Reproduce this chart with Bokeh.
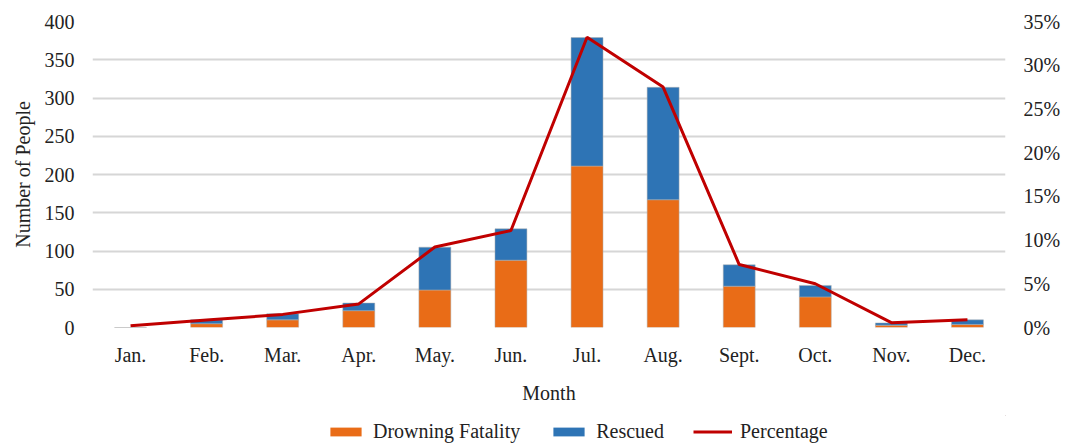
from bokeh.plotting import figure
from bokeh.layouts import column
from bokeh.models import (ColumnDataSource, FactorRange, Range1d, LinearAxis, Legend, LegendItem,
                          FixedTicker, PrintfTickFormatter)
from bokeh.embed import file_html
from bokeh.resources import INLINE

months = ["Jan.", "Feb.", "Mar.", "Apr.", "May.", "Jun.", "Jul.", "Aug.", "Sept.", "Oct.", "Nov.", "Dec."]
fatality = [0, 5, 10, 22, 49, 88, 211, 167, 54, 40, 3, 4]
rescued = [0, 5, 8, 10, 56, 41, 168, 147, 28, 15, 3, 6]
percentage = [0.2, 0.85, 1.5, 2.7, 9.2, 11.1, 33.2, 27.5, 7.2, 5.0, 0.55, 0.88]
series_names = ["Drowning Fatality", "Rescued", "Percentage"]

left_ticks = [0, 50, 100, 150, 200, 250, 300, 350, 400]
right_ticks = [0, 5, 10, 15, 20, 25, 30, 35]

FONT = "Liberation Serif"
ORANGE = "#E96C17"
BLUE = "#2E74B5"
RED = "#C00000"
TXT = "#222222"

src = ColumnDataSource(dict(month=months, fatality=fatality, rescued=rescued, pct=percentage))

p = figure(width=1077, height=415, x_range=FactorRange(*months), y_range=Range1d(0, 400),
           output_backend="svg", toolbar_location=None,
           min_border_left=92, min_border_right=72, min_border_top=21, min_border_bottom=88)
p.outline_line_color = None
p.background_fill_color = "white"

p.extra_y_ranges = {"pct": Range1d(0, 35)}

p.ygrid.ticker = FixedTicker(ticks=left_ticks)
p.ygrid.grid_line_color = "#d6d6d6"
p.ygrid.grid_line_width = 2
p.xgrid.grid_line_color = None

bars = p.vbar_stack(["fatality", "rescued"], x="month", width=0.42, source=src,
                    color=[ORANGE, BLUE], line_color="#b0b0b0", line_width=0.5)
line = p.line(x="month", y="pct", source=src, y_range_name="pct", color=RED, line_width=3)

ya = p.yaxis[0]
ya.ticker = FixedTicker(ticks=left_ticks)
ya.axis_label = "Number of People"
ya.axis_line_color = None
ya.major_tick_line_color = None
ya.minor_tick_line_color = None
ya.major_label_text_font = FONT
ya.major_label_text_font_size = "20px"
ya.major_label_text_color = TXT
ya.major_label_standoff = 12
ya.axis_label_text_font = FONT
ya.axis_label_text_font_size = "20px"
ya.axis_label_text_font_style = "normal"
ya.axis_label_text_color = TXT
ya.axis_label_standoff = 8

ra = LinearAxis(y_range_name="pct", ticker=FixedTicker(ticks=right_ticks),
                formatter=PrintfTickFormatter(format="%d%%"))
ra.axis_line_color = None
ra.major_tick_line_color = None
ra.minor_tick_line_color = None
ra.major_label_text_font = FONT
ra.major_label_text_font_size = "20px"
ra.major_label_text_color = TXT
ra.major_label_standoff = 12
p.add_layout(ra, "right")

xa = p.xaxis[0]
xa.axis_label = "Month"
xa.axis_line_color = None
xa.major_tick_line_color = None
xa.minor_tick_line_color = None
xa.major_label_text_font = FONT
xa.major_label_text_font_size = "20px"
xa.major_label_text_color = TXT
xa.major_label_standoff = 10
xa.axis_label_text_font = FONT
xa.axis_label_text_font_size = "20px"
xa.axis_label_text_font_style = "normal"
xa.axis_label_text_color = TXT
xa.axis_label_standoff = 13

# legend strip (its sample glyphs sit far outside the visible range; only the legend shows)
lg = figure(width=1077, height=28, x_range=Range1d(0, 1), y_range=Range1d(0, 1),
            output_backend="svg", toolbar_location=None,
            min_border_left=0, min_border_right=0, min_border_top=0, min_border_bottom=0)
lg.outline_line_color = None
lg.axis.visible = False
lg.grid.visible = False
dummy = ColumnDataSource(dict(x=[50, 60], y=[50, 51]))
r1 = lg.vbar(x="x", top="y", bottom=40, width=0.1, source=dummy, fill_color=ORANGE, line_color=None)
r2 = lg.vbar(x="x", top="y", bottom=40, width=0.1, source=dummy, fill_color=BLUE, line_color=None)
r3 = lg.line(x="x", y="y", source=dummy, color=RED, line_width=3)

legend = Legend(items=[LegendItem(label=series_names[0], renderers=[r1]),
                       LegendItem(label=series_names[1], renderers=[r2]),
                       LegendItem(label=series_names[2], renderers=[r3])],
                orientation="horizontal", location=(234, 0),
                label_text_font=FONT, label_text_font_size="20px", label_text_color=TXT,
                glyph_width=39, glyph_height=11, spacing=29, label_standoff=8,
                border_line_color=None, background_fill_alpha=0, padding=0, margin=0)
lg.add_layout(legend, "center")

layout = column(p, lg, spacing=0)
open("out.html", "w").write(file_html(layout, INLINE))
